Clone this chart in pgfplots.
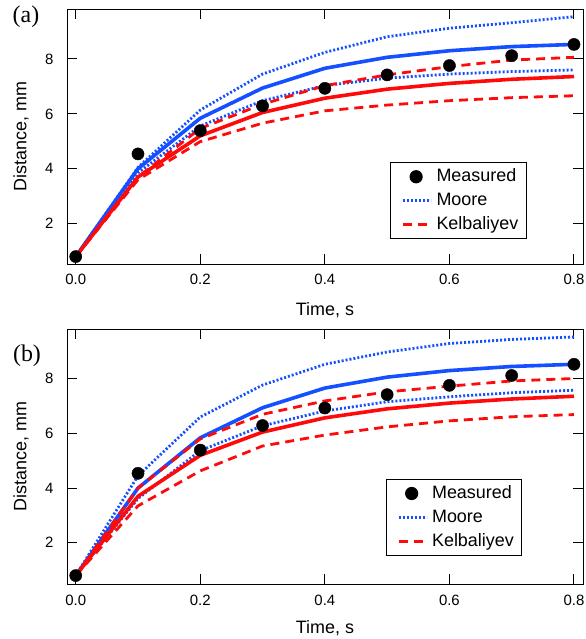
\documentclass[border=0pt]{standalone}
\usepackage{pgfplots}
\pgfplotsset{compat=1.18}
\usepackage{fontspec}
\setmainfont{Liberation Sans}
\newfontfamily\panelfont{Liberation Serif}
\definecolor{mblue}{RGB}{20,80,255}
\definecolor{mred}{RGB}{255,10,10}

\pgfplotstableread{
x    meas  bsol  bup   blo   rsol  rup   rlo
0.0  0.80  0.80  0.80  0.80  0.80  0.80  0.80
0.1  4.54  4.00  4.05  3.85  3.70  3.70  3.60
0.2  5.39  5.84  6.14  5.56  5.20  5.47  4.99
0.3  6.29  6.94  7.45  6.48  6.05  6.35  5.66
0.4  6.93  7.66  8.24  7.03  6.57  7.03  6.11
0.5  7.42  8.06  8.81  7.30  6.90  7.42  6.32
0.6  7.76  8.30  9.12  7.45  7.11  7.72  6.48
0.7  8.12  8.45  9.32  7.54  7.26  7.96  6.59
0.8  8.53  8.53  9.54  7.60  7.36  8.06  6.66
}\dataA

\pgfplotstableread{
x    meas  bsol  bup   blo   rsol  rup   rlo
0.0  0.80  0.80  0.80  0.80  0.80  0.80  0.80
0.1  4.54  4.00  4.45  3.62  3.70  4.00  3.35
0.2  5.39  5.84  6.60  5.37  5.20  5.80  4.63
0.3  6.29  6.94  7.77  6.28  6.05  6.70  5.54
0.4  6.93  7.66  8.53  6.82  6.57  7.19  5.94
0.5  7.42  8.06  8.98  7.16  6.90  7.52  6.24
0.6  7.76  8.30  9.29  7.34  7.11  7.73  6.46
0.7  8.12  8.45  9.44  7.49  7.26  7.92  6.61
0.8  8.53  8.53  9.53  7.58  7.36  8.01  6.69
}\dataB

\pgfplotsset{
  panel/.style={
    scale only axis, width=516bp, height=255bp,
    xmin=-0.014, xmax=0.8145,
    xtick={0,0.2,0.4,0.6,0.8},
    xticklabels={0.0,0.2,0.4,0.6,0.8},
    ytick={2,4,6,8},
    tick align=inside, major tick length=10bp,
    axis line style={line width=1bp, black},
    tick style={line width=1bp, black},
    /pgf/number format/assume math mode=true,
    tick label style={font=\fontsize{15}{18}\selectfont},
    yticklabel style={xshift=-10bp},
    xticklabel style={yshift=-7bp},
    label style={font=\fontsize{18}{21}\selectfont},
    xlabel={Time, s}, ylabel={Distance, mm},
    ylabel style={at={(axis description cs:-0.0891,0.5)}, anchor=center},
    clip=false,
    legend cell align=left,
    legend style={draw=black, line width=1bp,
      font=\fontsize{18}{21}\selectfont,
      nodes={inner ysep=1.5bp, inner xsep=4bp, text height=13bp, text depth=4bp},
      row sep=4bp, inner xsep=4bp, inner ysep=4bp},
    legend image code/.code={\path (-7bp,0bp); \draw[#1] (0bp,0bp) -- (28bp,0bp);},
  },
  meas/.style={only marks, mark=*, mark size=6.1bp, black},
  solidln/.style={line width=3.6bp},
  dotln/.style={line width=2.8bp, dash pattern=on 2bp off 2bp},
  dashln/.style={line width=2.8bp, dash pattern=on 9bp off 6bp},
  measlegend/.style={legend image code/.code={\path (-7bp,0bp); \draw[mark repeat=2,mark phase=2,##1] plot coordinates {(0bp,0bp)(13bp,0bp)(28bp,0bp)};}},
}

\begin{document}
\begin{tikzpicture}
\useasboundingbox (0,0) rectangle (586bp,-639bp);

% ---------------- panel (a)
\begin{axis}[panel,
  at={(67bp,-264bp)}, anchor=south west,
  ymin=0.53, ymax=9.82,
  xlabel style={at={(axis description cs:0.5,-0.1804)}, anchor=center},
  legend style={at={(axis description cs:0.891,0.097)}, anchor=south east},
]
\addlegendimage{meas, measlegend}
\addlegendentry{Measured}
\addlegendimage{mblue, dotln}
\addlegendentry{Moore}
\addlegendimage{mred, dashln}
\addlegendentry{Kelbaliyev}

\addplot[meas, forget plot] table[x=x, y=meas] {\dataA};
\addplot[mblue, solidln, forget plot] table[x=x, y=bsol] {\dataA};
\addplot[mblue, dotln, forget plot] table[x=x, y=bup] {\dataA};
\addplot[mblue, dotln, forget plot] table[x=x, y=blo] {\dataA};
\addplot[mred, solidln, forget plot] table[x=x, y=rsol] {\dataA};
\addplot[mred, dashln, forget plot] table[x=x, y=rup] {\dataA};
\addplot[mred, dashln, forget plot] table[x=x, y=rlo] {\dataA};

\node[font=\panelfont\fontsize{24}{24}\selectfont] at (axis description cs:-0.0795,0.970) {(a)};
\end{axis}

% ---------------- panel (b)
\begin{axis}[panel,
  at={(67bp,-584.3bp)}, anchor=south west,
  ymin=0.48, ymax=9.81,
  xlabel style={at={(axis description cs:0.5,-0.1725)}, anchor=center},
  legend style={at={(axis description cs:0.8824,0.111)}, anchor=south east},
]
\addlegendimage{meas, measlegend}
\addlegendentry{Measured}
\addlegendimage{mblue, dotln}
\addlegendentry{Moore}
\addlegendimage{mred, dashln}
\addlegendentry{Kelbaliyev}

\addplot[meas, forget plot] table[x=x, y=meas] {\dataB};
\addplot[mblue, solidln, forget plot] table[x=x, y=bsol] {\dataB};
\addplot[mblue, dotln, forget plot] table[x=x, y=bup] {\dataB};
\addplot[mblue, dotln, forget plot] table[x=x, y=blo] {\dataB};
\addplot[mred, solidln, forget plot] table[x=x, y=rsol] {\dataB};
\addplot[mred, dashln, forget plot] table[x=x, y=rup] {\dataB};
\addplot[mred, dashln, forget plot] table[x=x, y=rlo] {\dataB};

\node[font=\panelfont\fontsize{24}{24}\selectfont] at (axis description cs:-0.0775,0.898) {(b)};
\end{axis}
\end{tikzpicture}
\end{document}
